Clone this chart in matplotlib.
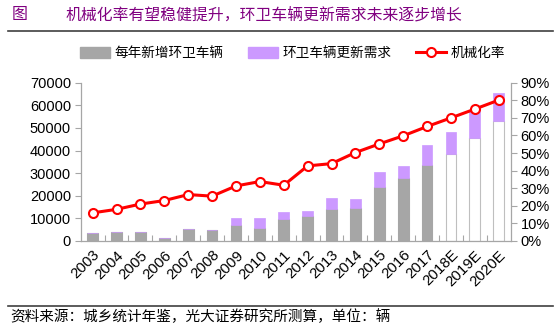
import matplotlib
matplotlib.use("Agg")
import matplotlib.pyplot as plt
from matplotlib.patches import Patch
from matplotlib.lines import Line2D
from matplotlib.ticker import FuncFormatter, FixedLocator
import numpy as np

plt.rcParams['font.family'] = ['Liberation Sans', 'Noto Sans CJK SC', 'DejaVu Sans']

years = ['2003', '2004', '2005', '2006', '2007', '2008', '2009', '2010', '2011',
         '2012', '2013', '2014', '2015', '2016', '2017', '2018E', '2019E', '2020E']
new_vehicles = [3400, 4100, 4000, 1500, 5500, 4900, 7100, 5900, 9600,
                11200, 14200, 14500, 23900, 28000, 33700, 38400, 45500, 53200]
renewal_demand = [0, 0, 0, 0, 0, 0, 2900, 4100, 3400,
                  2200, 4700, 4100, 6400, 5200, 8700, 9900, 12100, 12200]
mech_rate = [16, 18, 21, 23, 26.4, 25.5, 31.3, 33.8, 31.7,
             42.7, 44, 50.3, 55.2, 59.8, 65.1, 70, 75, 80.1]
is_estimate = [y.endswith('E') for y in years]

GREY = '#A6A6A6'
PURPLE = '#CC99FF'
RED = '#FF0000'
AXIS = '#A6A6A6'
TITLE_C = '#800080'

W, H = 558, 329
fig = plt.figure(figsize=(W / 100, H / 100), dpi=100)

ax = fig.add_axes([80.7 / W, 1 - 241 / H, 430 / W, 158.3 / H])
x = np.arange(len(years))
bw = 0.45
base_face = ['white' if e else GREY for e in is_estimate]
base_edge = ['#BFBFBF' if e else GREY for e in is_estimate]
ax.bar(x, new_vehicles, width=bw, color=base_face, edgecolor=base_edge, linewidth=0.8, zorder=2)
ax.bar(x, renewal_demand, bottom=new_vehicles, width=bw, color=PURPLE, edgecolor=PURPLE,
       linewidth=0.5, zorder=2)

ax.set_xlim(-0.5, len(years) - 0.5)
ax.set_ylim(0, 70000)
ax.set_yticks(np.arange(0, 70001, 10000))
ax.set_xticks(x)
ax.set_xticklabels(years, rotation=45, ha='right', va='top', rotation_mode='anchor', fontsize=10.8)
ax.xaxis.set_minor_locator(FixedLocator(np.arange(0.5, len(years) - 0.5, 1)))
ax.tick_params(axis='x', which='major', length=0, pad=5)
ax.tick_params(axis='x', which='minor', length=4, direction='in', color=AXIS, width=0.8)
ax.tick_params(axis='y', length=4, direction='out', color=AXIS, width=0.8, labelsize=10.5, pad=3)
for s in ['top', 'right']:
    ax.spines[s].set_visible(False)
for s in ['left', 'bottom']:
    ax.spines[s].set_color(AXIS)
    ax.spines[s].set_linewidth(0.9)

ax2 = ax.twinx()
ax2.plot(x, [v / 100 for v in mech_rate], color=RED, linewidth=2.2, marker='o',
         markersize=6.5, markerfacecolor='white', markeredgecolor=RED, markeredgewidth=1.5, zorder=3)
ax2.set_ylim(0, 0.9)
ax2.set_yticks(np.arange(0, 0.91, 0.1))
ax2.yaxis.set_major_formatter(FuncFormatter(lambda v, p: f'{v * 100:.0f}%'))
ax2.tick_params(axis='y', length=4, direction='out', color=AXIS, width=0.8, labelsize=10.5, pad=3)
for s in ['top', 'left', 'bottom']:
    ax2.spines[s].set_visible(False)
ax2.spines['right'].set_color(AXIS)
ax2.spines['right'].set_linewidth(0.9)

# legend
handles = [Patch(facecolor=GREY, edgecolor=GREY),
           Patch(facecolor=PURPLE, edgecolor=PURPLE),
           Line2D([0], [0], color=RED, linewidth=2.2, marker='o', markersize=6.5,
                  markerfacecolor='white', markeredgecolor=RED, markeredgewidth=1.5)]
labels = ['每年新增环卫车辆', '环卫车辆更新需求', '机械化率']
fig.legend(handles, labels, loc='center', bbox_to_anchor=(0.524, 1 - 53 / H), ncol=3,
           frameon=False, prop={'family': ['Noto Sans CJK SC'], 'size': 9.8},
           handlelength=2.2, handleheight=0.9, columnspacing=1.8, handletextpad=0.35,
           borderpad=0.2)

# title
fig.text(12 / W, 1 - 15 / H, '图', color=TITLE_C, fontsize=11.5,
         family=['Noto Sans CJK SC'], va='center', ha='left')
fig.text(65 / W, 1 - 15 / H, '机械化率有望稳健提升，环卫车辆更新需求未来逐步增长', color=TITLE_C,
         fontsize=11.4, family=['Noto Sans CJK SC'], va='center', ha='left')
fig.add_artist(Line2D([8 / W, 553 / W], [1 - 31 / H, 1 - 31 / H], color='#404040', linewidth=1.2))

# source
fig.add_artist(Line2D([8 / W, 553 / W], [1 - 306 / H, 1 - 306 / H], color='#404040', linewidth=1.2))
fig.text(10 / W, 1 - 317 / H, '资料来源：城乡统计年鉴，光大证券研究所测算，单位：辆', color='black',
         fontsize=10.5, family=['Noto Sans CJK SC'], va='center', ha='left')

fig.savefig('out.png', dpi=100)
